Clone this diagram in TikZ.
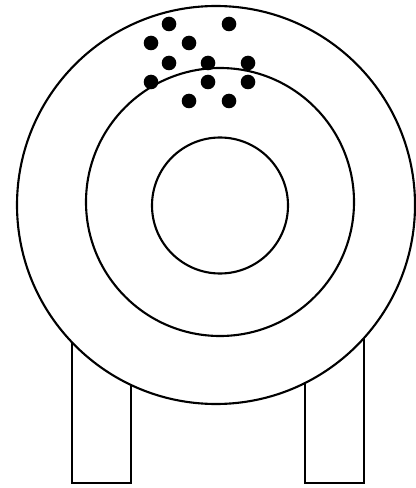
\documentclass[tikz,border=0pt]{standalone}
\usepackage{tikz}

\begin{document}
\begin{tikzpicture}[
    x=0.01cm, y=-0.01cm,
    ring/.style={draw, line width=0.6pt, fill=white},
    leg/.style={draw, line width=0.6pt, fill=white},
    pellet/.style={fill=black}
  ]
    \useasboundingbox (0,0) rectangle (416,488);

    % stand
    \draw[leg] (72,300) rectangle (131,483);
    \draw[leg] (305,300) rectangle (364,483);

    % target rings
    \draw[ring] (216,205) circle (199);
    \draw[ring] (220,202) circle (134);
    \draw[ring] (220,205.5) circle (68);

    % shot pattern
    \foreach \px/\py in {169/24, 229/24, 151/43, 189/43,
                         169/63, 208/63, 248/63,
                         151/82, 208/82, 248/82,
                         189/101, 229/101}
      \fill[pellet] (\px,\py) circle (7.3);
  \end{tikzpicture}
\end{document}
